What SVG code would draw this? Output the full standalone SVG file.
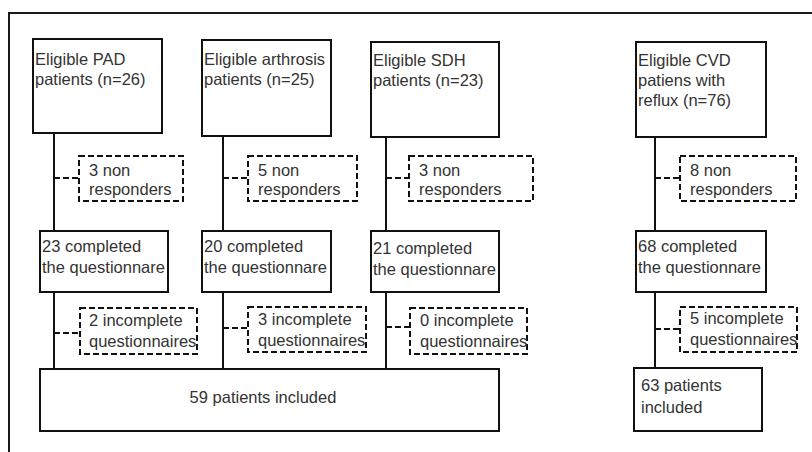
<svg xmlns="http://www.w3.org/2000/svg" width="812" height="452" viewBox="0 0 812 452">
<style>
.frame{fill:none;stroke:#1a1a1a;stroke-width:2}
.box{fill:#fff;stroke:#111;stroke-width:2}
.dbox{fill:#fff;stroke:#111;stroke-width:2;stroke-dasharray:6 3}
.ln{stroke:#111;stroke-width:2;fill:none}
.dl{stroke:#111;stroke-width:2;fill:none;stroke-dasharray:6 3}
text{font-family:"Liberation Sans",Arial,sans-serif;font-size:16.5px;fill:#333}
</style>
<rect width="812" height="452" fill="#fff"/>
<path class="frame" d="M9,452 V13 H812"/>
<g id="connectors">
<line class="ln" x1="54" y1="133" x2="54" y2="369"/>
<line class="ln" x1="223" y1="136" x2="223" y2="369"/>
<line class="ln" x1="386" y1="137" x2="386" y2="369"/>
<line class="ln" x1="655" y1="137" x2="655" y2="368"/>
<line class="dl" x1="54" y1="178" x2="79" y2="178"/>
<line class="dl" x1="223" y1="178" x2="248" y2="178"/>
<line class="dl" x1="386" y1="178" x2="409" y2="178"/>
<line class="dl" x1="655" y1="178" x2="680" y2="178"/>
<line class="dl" x1="54" y1="333" x2="80" y2="333"/>
<line class="dl" x1="223" y1="328" x2="248" y2="328"/>
<line class="dl" x1="386" y1="327" x2="410" y2="327"/>
<line class="dl" x1="655" y1="329" x2="680" y2="329"/>
</g>
<g id="pad">
<rect class="box" x="33" y="39" width="129" height="94"/>
<text x="35" y="65">Eligible PAD</text>
<text x="35" y="85">patients (n=26)</text>
</g>
<g id="arthrosis">
<rect class="box" x="202" y="40" width="129" height="96"/>
<text x="204" y="65">Eligible arthrosis</text>
<text x="204" y="85">patients (n=25)</text>
</g>
<g id="sdh">
<rect class="box" x="371" y="42" width="128" height="95"/>
<text x="373" y="66">Eligible SDH</text>
<text x="373" y="86">patients (n=23)</text>
</g>
<g id="cvd">
<rect class="box" x="636" y="42" width="130" height="95"/>
<text x="638" y="66">Eligible CVD</text>
<text x="638" y="86">patiens with</text>
<text x="638" y="106">reflux (n=76)</text>
</g>
<g id="nr1">
<rect class="dbox" x="79" y="156" width="104" height="45"/>
<text x="89" y="176">3 non</text>
<text x="89" y="195">responders</text>
</g>
<g id="nr2">
<rect class="dbox" x="248" y="156" width="109" height="45"/>
<text x="258" y="176">5 non</text>
<text x="258" y="195">responders</text>
</g>
<g id="nr3">
<rect class="dbox" x="409" y="156" width="124" height="45"/>
<text x="419" y="176">3 non</text>
<text x="419" y="195">responders</text>
</g>
<g id="nr4">
<rect class="dbox" x="680" y="156" width="116" height="45"/>
<text x="690" y="176">8 non</text>
<text x="690" y="195">responders</text>
</g>
<g id="c1">
<rect class="box" x="40" y="231" width="128" height="61"/>
<text x="42" y="252">23 completed</text>
<text x="42" y="273">the questionnare</text>
</g>
<g id="c2">
<rect class="box" x="202" y="231" width="129" height="61"/>
<text x="204" y="252">20 completed</text>
<text x="204" y="273">the questionnare</text>
</g>
<g id="c3">
<rect class="box" x="371" y="231" width="128" height="61"/>
<text x="373" y="254">21 completed</text>
<text x="373" y="275">the questionnare</text>
</g>
<g id="c4">
<rect class="box" x="636" y="231" width="130" height="61"/>
<text x="638" y="252">68 completed</text>
<text x="638" y="273">the questionnare</text>
</g>
<g id="i1">
<rect class="dbox" x="80" y="308" width="117" height="46"/>
<text x="89" y="326">2 incomplete</text>
<text x="89" y="347">questionnaires</text>
</g>
<g id="i2">
<rect class="dbox" x="248" y="307" width="118" height="45"/>
<text x="258" y="325">3 incomplete</text>
<text x="258" y="346">questionnaires</text>
</g>
<g id="i3">
<rect class="dbox" x="410" y="308" width="117" height="46"/>
<text x="420" y="326">0 incomplete</text>
<text x="420" y="347">questionnaires</text>
</g>
<g id="i4">
<rect class="dbox" x="680" y="307" width="117" height="45"/>
<text x="690" y="324">5 incomplete</text>
<text x="690" y="345">questionnaires</text>
</g>
<g id="inc59">
<rect class="box" x="40" y="369" width="459" height="62"/>
<text x="263" y="403" text-anchor="middle">59 patients included</text>
</g>
<g id="inc63">
<rect class="box" x="634" y="368" width="128" height="63"/>
<text x="641" y="391">63 patients</text>
<text x="641" y="413">included</text>
</g>
</svg>
